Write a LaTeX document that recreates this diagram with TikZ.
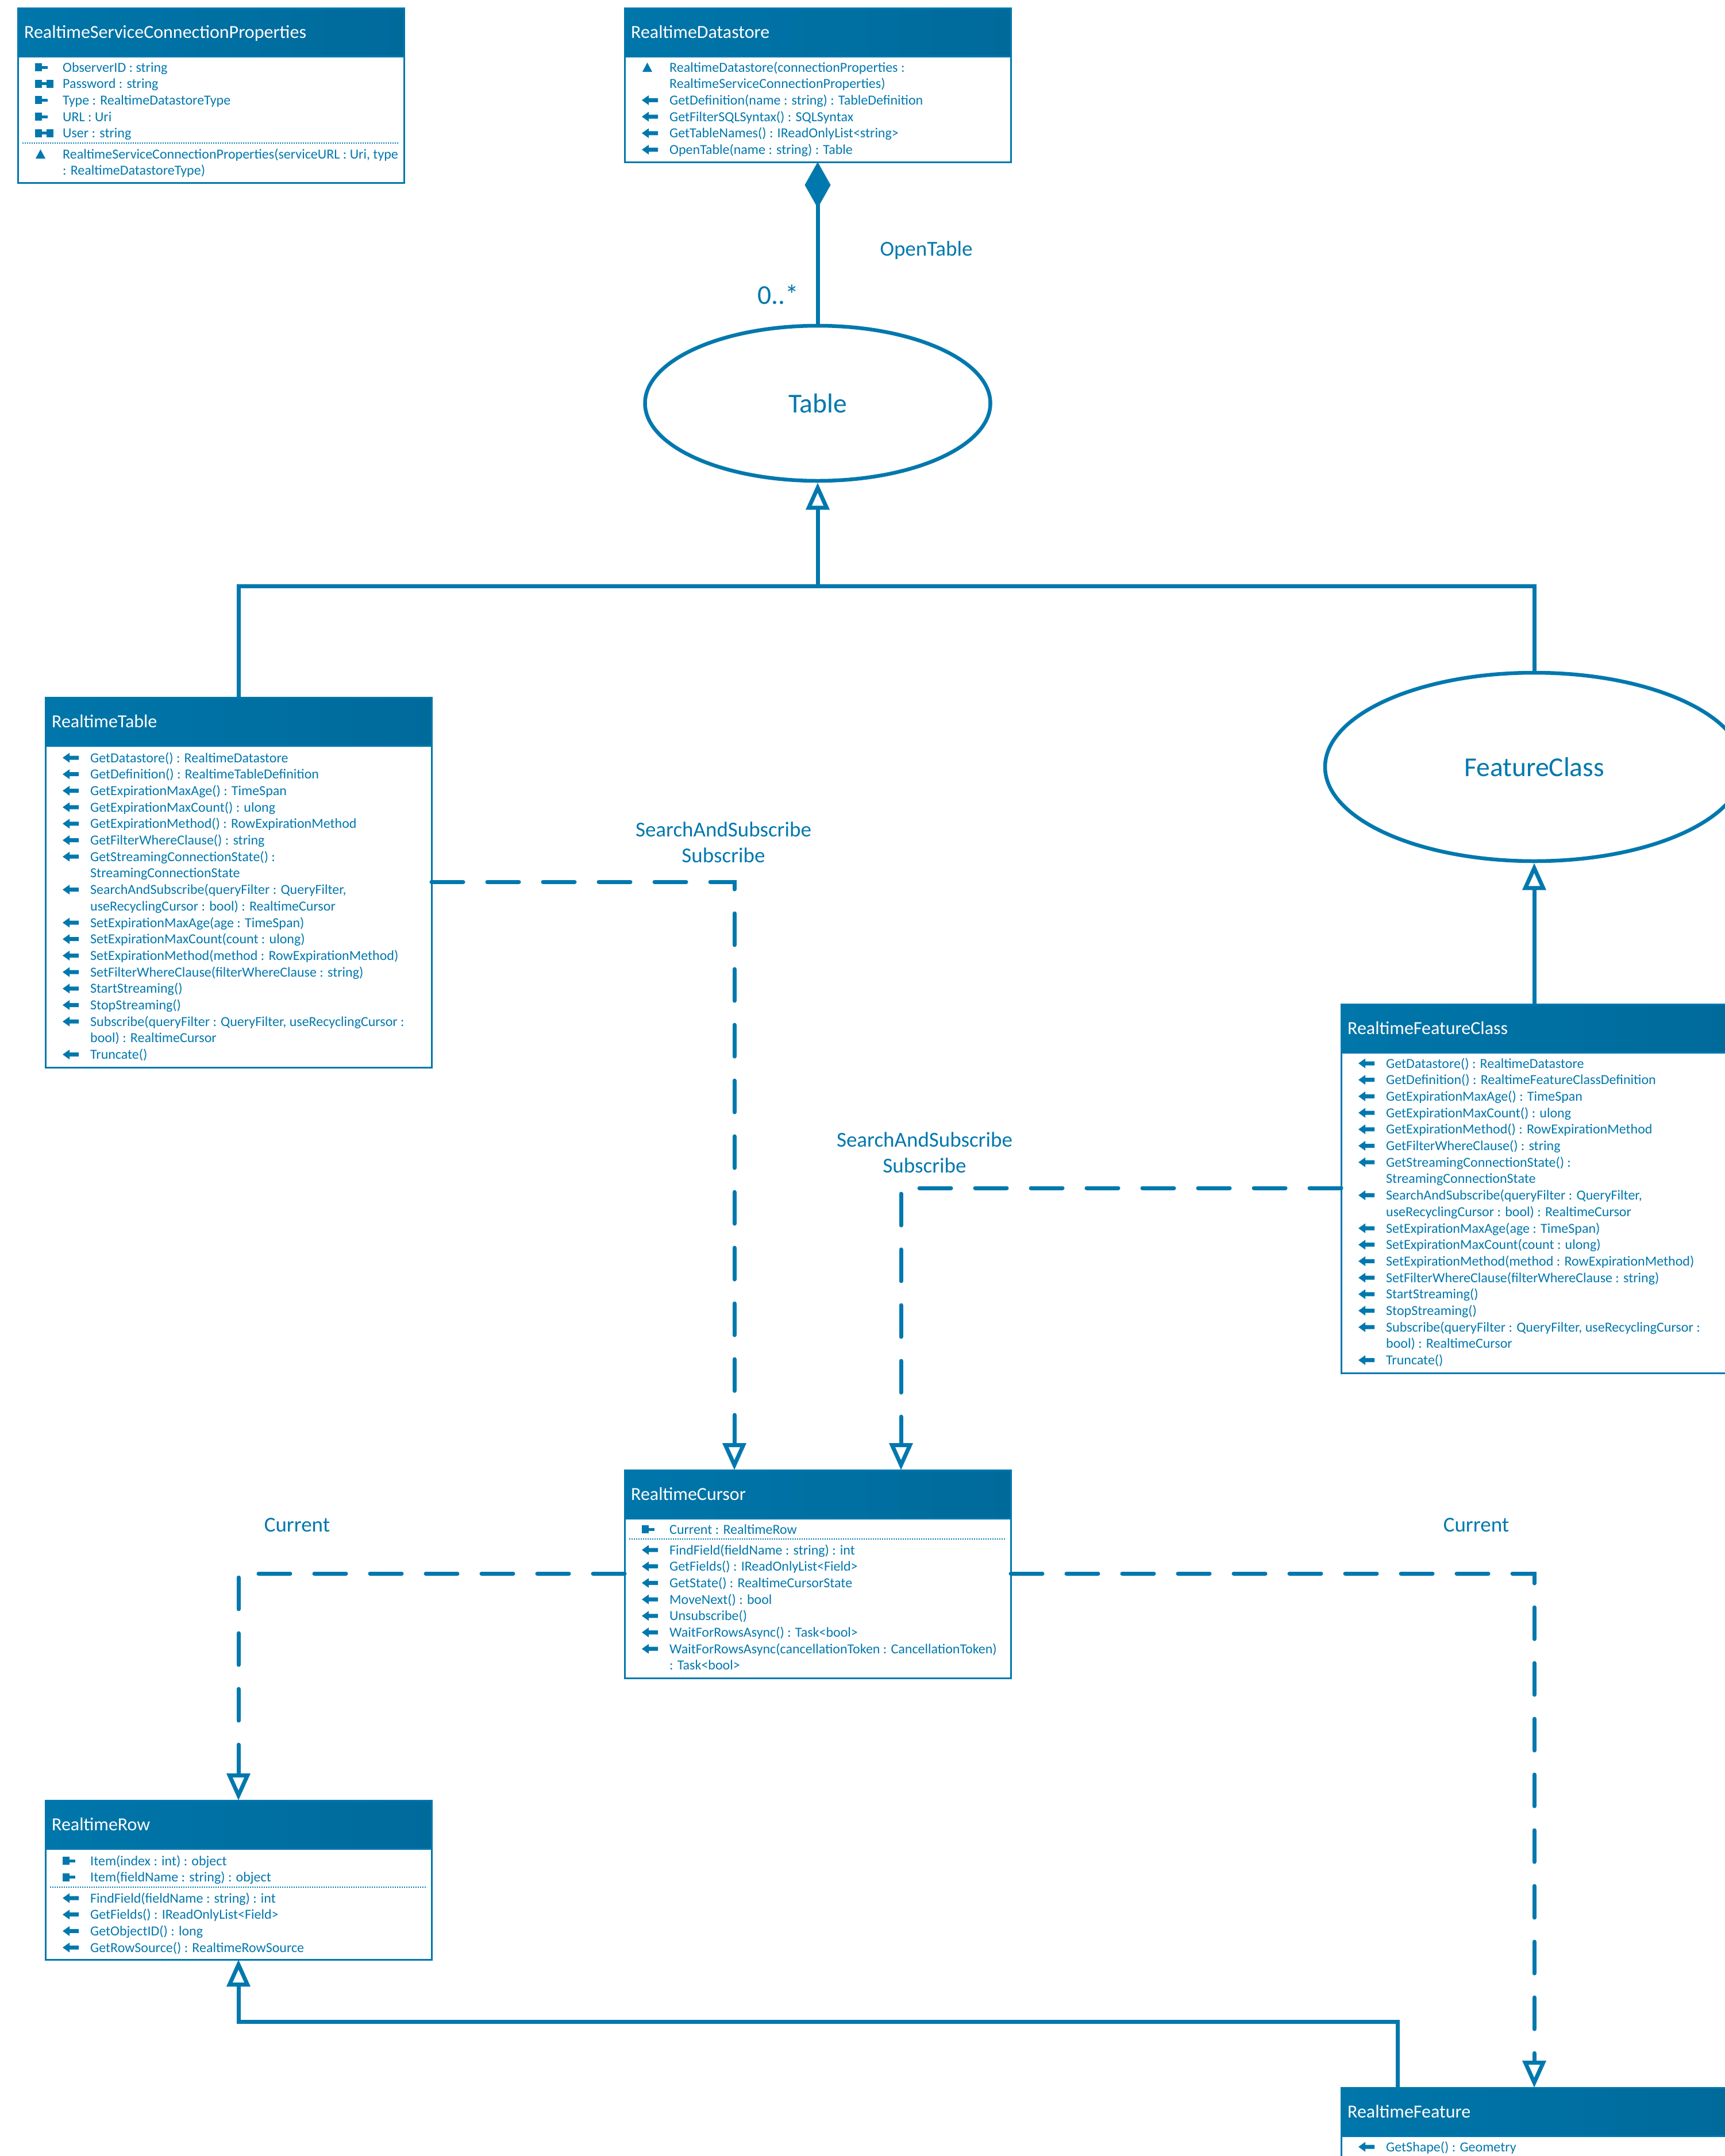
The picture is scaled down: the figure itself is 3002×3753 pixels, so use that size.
\documentclass[tikz,border=0pt]{standalone}
\usepackage{fontspec}
\setmainfont{Carlito}
\usetikzlibrary{arrows.meta,shapes.geometric}
\definecolor{uml}{HTML}{0078AE}
\definecolor{hA}{HTML}{0076AA}
\definecolor{hB}{HTML}{0086BF}
\definecolor{hC}{HTML}{006A9B}
\newcounter{tn}
\tikzset{
 box/.style={draw=uml, line width=3pt, fill=white, anchor=north west, minimum width=672pt, inner sep=0pt, outer sep=0pt},
 hdr/.style={left color=hA, middle color=hB, right color=hC, draw=uml, line width=3pt, anchor=north west, minimum width=672pt, minimum height=84pt, inner sep=0pt, outer sep=0pt},
 ttl/.style={anchor=base west, inner sep=0pt, text=white, font=\fontsize{32}{38}\selectfont},
 bt/.style={anchor=base west, inner sep=0pt, text=uml, font=\fontsize{24}{29}\selectfont},
 lbl/.style={text=uml, font=\fontsize{37}{45}\selectfont, align=center, inner sep=0pt},
 ell/.style={ellipse, draw=uml, line width=6.5pt, fill=white, text=uml, font=\fontsize{47.5}{57}\selectfont, inner sep=0pt},
 conn/.style={draw=uml, line width=7pt},
 gen/.style={conn, -{Triangle[open, length=47pt, width=40pt]}},
 dep/.style={conn, dash pattern=on 55pt off 42pt, line cap=round, -{Triangle[open, length=47pt, width=40pt]}},
}
\newcommand\utxt[4]{\stepcounter{tn}\node[bt] (t\arabic{tn}) at ({#1+78},{#2+#3*28.7+8}) {#4};}
\newcommand\umth[4]{\fill[uml] ({#1+30},{#2+#3*28.7}) -- ++(12,-8.5) -- ++(0,5) -- ++(16,0) -- ++(0,7) -- ++(-16,0) -- ++(0,5) -- cycle; \utxt{#1}{#2}{#3}{#4}}
\newcommand\uprp[4]{\fill[uml] ({#1+30},{#2+#3*28.7-7}) rectangle ++(12,14); \fill[uml] ({#1+41},{#2+#3*28.7-2.5}) rectangle ++(11,5); \utxt{#1}{#2}{#3}{#4}}
\newcommand\uprpp[4]{\uprp{#1}{#2}{#3}{#4}\fill[uml] ({#1+50},{#2+#3*28.7-7}) rectangle ++(12,14);}
\newcommand\uctr[4]{\fill[uml] ({#1+31},{#2+#3*28.7+8}) -- ++(8.5,-16) -- ++(8.5,16) -- cycle; \utxt{#1}{#2}{#3}{#4}}
\newcommand\udiv[2]{\draw[uml, line width=1.5pt, dash pattern=on 2pt off 2pt] ({#1+8},#2) -- ({#1+664},#2);}
\begin{document}
\begin{tikzpicture}[x=1pt,y=-1pt]
\useasboundingbox (0,0) rectangle (3002,3753);
\clip (0,0) rectangle (3002,3753);
\fill[white] (0,0) rectangle (3002,3753);

% ---------- RealtimeServiceConnectionProperties
\node[box, minimum height=304pt] (rscp) at (31,14) {};
\node[hdr] (rscpH) at (31,14) {};
\node[ttl] (rscpT) at (42,66) {RealtimeServiceConnectionProperties};
\uprp{31}{117}{0}{ObserverID : string}
\uprpp{31}{117}{1}{Password : string}
\uprp{31}{117}{2}{Type : RealtimeDatastoreType}
\uprp{31}{117}{3}{URL : Uri}
\uprpp{31}{117}{4}{User : string}
\udiv{31}{249}
\uctr{31}{268}{0}{RealtimeServiceConnectionProperties(serviceURL : Uri, type}
\utxt{31}{268}{1}{: RealtimeDatastoreType)}

% ---------- RealtimeDatastore
\node[box, minimum height=268pt] (ds) at (1087,14) {};
\node[hdr] (dsH) at (1087,14) {};
\node[ttl] (dsT) at (1098,66) {RealtimeDatastore};
\uctr{1087}{117}{0}{RealtimeDatastore(connectionProperties :}
\utxt{1087}{117}{1}{RealtimeServiceConnectionProperties)}
\umth{1087}{117}{2}{GetDefinition(name : string) : TableDefinition}
\umth{1087}{117}{3}{GetFilterSQLSyntax() : SQLSyntax}
\umth{1087}{117}{4}{GetTableNames() : IReadOnlyList<string>}
\umth{1087}{117}{5}{OpenTable(name : string) : Table}

% ---------- Table ellipse
\node[ell, minimum width=601pt, minimum height=270pt] (tbl) at (1423,702) {Table};
\node[lbl] (lOpen) at (1612,436) {OpenTable};
\node[lbl, font=\fontsize{47.5}{57}\selectfont] (lMult) at (1354,513) {0..*};

% ---------- RealtimeTable
\node[box, minimum height=644pt] (rt) at (79,1214) {};
\node[hdr] (rtH) at (79,1214) {};
\node[ttl] (rtT) at (90,1266) {RealtimeTable};
\umth{79}{1319}{0}{GetDatastore() : RealtimeDatastore}
\umth{79}{1319}{1}{GetDefinition() : RealtimeTableDefinition}
\umth{79}{1319}{2}{GetExpirationMaxAge() : TimeSpan}
\umth{79}{1319}{3}{GetExpirationMaxCount() : ulong}
\umth{79}{1319}{4}{GetExpirationMethod() : RowExpirationMethod}
\umth{79}{1319}{5}{GetFilterWhereClause() : string}
\umth{79}{1319}{6}{GetStreamingConnectionState() :}
\utxt{79}{1319}{7}{StreamingConnectionState}
\umth{79}{1319}{8}{SearchAndSubscribe(queryFilter : QueryFilter,}
\utxt{79}{1319}{9}{useRecyclingCursor : bool) : RealtimeCursor}
\umth{79}{1319}{10}{SetExpirationMaxAge(age : TimeSpan)}
\umth{79}{1319}{11}{SetExpirationMaxCount(count : ulong)}
\umth{79}{1319}{12}{SetExpirationMethod(method : RowExpirationMethod)}
\umth{79}{1319}{13}{SetFilterWhereClause(filterWhereClause : string)}
\umth{79}{1319}{14}{StartStreaming()}
\umth{79}{1319}{15}{StopStreaming()}
\umth{79}{1319}{16}{Subscribe(queryFilter : QueryFilter, useRecyclingCursor :}
\utxt{79}{1319}{17}{bool) : RealtimeCursor}
\umth{79}{1319}{18}{Truncate()}

% ---------- FeatureClass ellipse
\node[ell, minimum width=728pt, minimum height=328pt] (fc) at (2670,1335) {FeatureClass};

% ---------- RealtimeFeatureClass
\node[box, minimum height=642pt] (rfc) at (2334,1748) {};
\node[hdr] (rfcH) at (2334,1748) {};
\node[ttl] (rfcT) at (2345,1800) {RealtimeFeatureClass};
\umth{2334}{1851}{0}{GetDatastore() : RealtimeDatastore}
\umth{2334}{1851}{1}{GetDefinition() : RealtimeFeatureClassDefinition}
\umth{2334}{1851}{2}{GetExpirationMaxAge() : TimeSpan}
\umth{2334}{1851}{3}{GetExpirationMaxCount() : ulong}
\umth{2334}{1851}{4}{GetExpirationMethod() : RowExpirationMethod}
\umth{2334}{1851}{5}{GetFilterWhereClause() : string}
\umth{2334}{1851}{6}{GetStreamingConnectionState() :}
\utxt{2334}{1851}{7}{StreamingConnectionState}
\umth{2334}{1851}{8}{SearchAndSubscribe(queryFilter : QueryFilter,}
\utxt{2334}{1851}{9}{useRecyclingCursor : bool) : RealtimeCursor}
\umth{2334}{1851}{10}{SetExpirationMaxAge(age : TimeSpan)}
\umth{2334}{1851}{11}{SetExpirationMaxCount(count : ulong)}
\umth{2334}{1851}{12}{SetExpirationMethod(method : RowExpirationMethod)}
\umth{2334}{1851}{13}{SetFilterWhereClause(filterWhereClause : string)}
\umth{2334}{1851}{14}{StartStreaming()}
\umth{2334}{1851}{15}{StopStreaming()}
\umth{2334}{1851}{16}{Subscribe(queryFilter : QueryFilter, useRecyclingCursor :}
\utxt{2334}{1851}{17}{bool) : RealtimeCursor}
\umth{2334}{1851}{18}{Truncate()}

% ---------- RealtimeCursor
\node[box, minimum height=362pt] (rc) at (1087,2559) {};
\node[hdr] (rcH) at (1087,2559) {};
\node[ttl] (rcT) at (1098,2611) {RealtimeCursor};
\uprp{1087}{2662}{0}{Current : RealtimeRow}
\udiv{1087}{2679}
\umth{1087}{2698}{0}{FindField(fieldName : string) : int}
\umth{1087}{2698}{1}{GetFields() : IReadOnlyList<Field>}
\umth{1087}{2698}{2}{GetState() : RealtimeCursorState}
\umth{1087}{2698}{3}{MoveNext() : bool}
\umth{1087}{2698}{4}{Unsubscribe()}
\umth{1087}{2698}{5}{WaitForRowsAsync() : Task<bool>}
\umth{1087}{2698}{6}{WaitForRowsAsync(cancellationToken : CancellationToken)}
\utxt{1087}{2698}{7}{: Task<bool>}

% ---------- RealtimeRow
\node[box, minimum height=277pt] (rrow) at (79,3134) {};
\node[hdr] (rrowH) at (79,3134) {};
\node[ttl] (rrowT) at (90,3186) {RealtimeRow};
\uprp{79}{3239}{0}{Item(index : int) : object}
\uprp{79}{3239}{1}{Item(fieldName : string) : object}
\udiv{79}{3285}
\umth{79}{3304}{0}{FindField(fieldName : string) : int}
\umth{79}{3304}{1}{GetFields() : IReadOnlyList<Field>}
\umth{79}{3304}{2}{GetObjectID() : long}
\umth{79}{3304}{3}{GetRowSource() : RealtimeRowSource}

% ---------- RealtimeFeature
\node[box, minimum height=200pt] (rf) at (2334,3634) {};
\node[hdr] (rfH) at (2334,3634) {};
\node[ttl] (rfT) at (2345,3686) {RealtimeFeature};
\umth{2334}{3737}{0}{GetShape() : Geometry}

% ---------- connectors
\draw[conn, {Diamond[length=80pt, width=45pt, line width=1pt]}-] (ds.south) -- (tbl.north);

\coordinate (j1) at (1423,1020);
\draw[conn] (rt.north) |- (j1);
\draw[conn] (fc.north) |- (j1);
\draw[gen] (j1) -- (tbl.south);
\draw[gen] (rfc.north) -- (fc.south);

\coordinate (y1) at (0,1535);
\coordinate (y2) at (0,2068);
\coordinate (y3) at (0,2739);
\coordinate (y4) at (0,3519);
\draw[dep] (rt.east |- y1) -| ([xshift=-145pt]rc.north);
\draw[dep] (rfc.west |- y2) -| ([xshift=145pt]rc.north);
\draw[dep] (rc.west |- y3) -| (rrow.north);
\draw[dep] (rc.east |- y3) -| (rf.north);
\draw[gen] ([xshift=98pt]rf.north west) |- (rrow.south |- y4) -- (rrow.south);

\node[lbl] (lSS1) at (1259,1466) {SearchAndSubscribe\\Subscribe};
\node[lbl] (lSS2) at (1609,2006) {SearchAndSubscribe\\Subscribe};
\node[lbl] (lCur1) at (517,2655) {Current};
\node[lbl] (lCur2) at (2569,2655) {Current};
\end{tikzpicture}
\end{document}
